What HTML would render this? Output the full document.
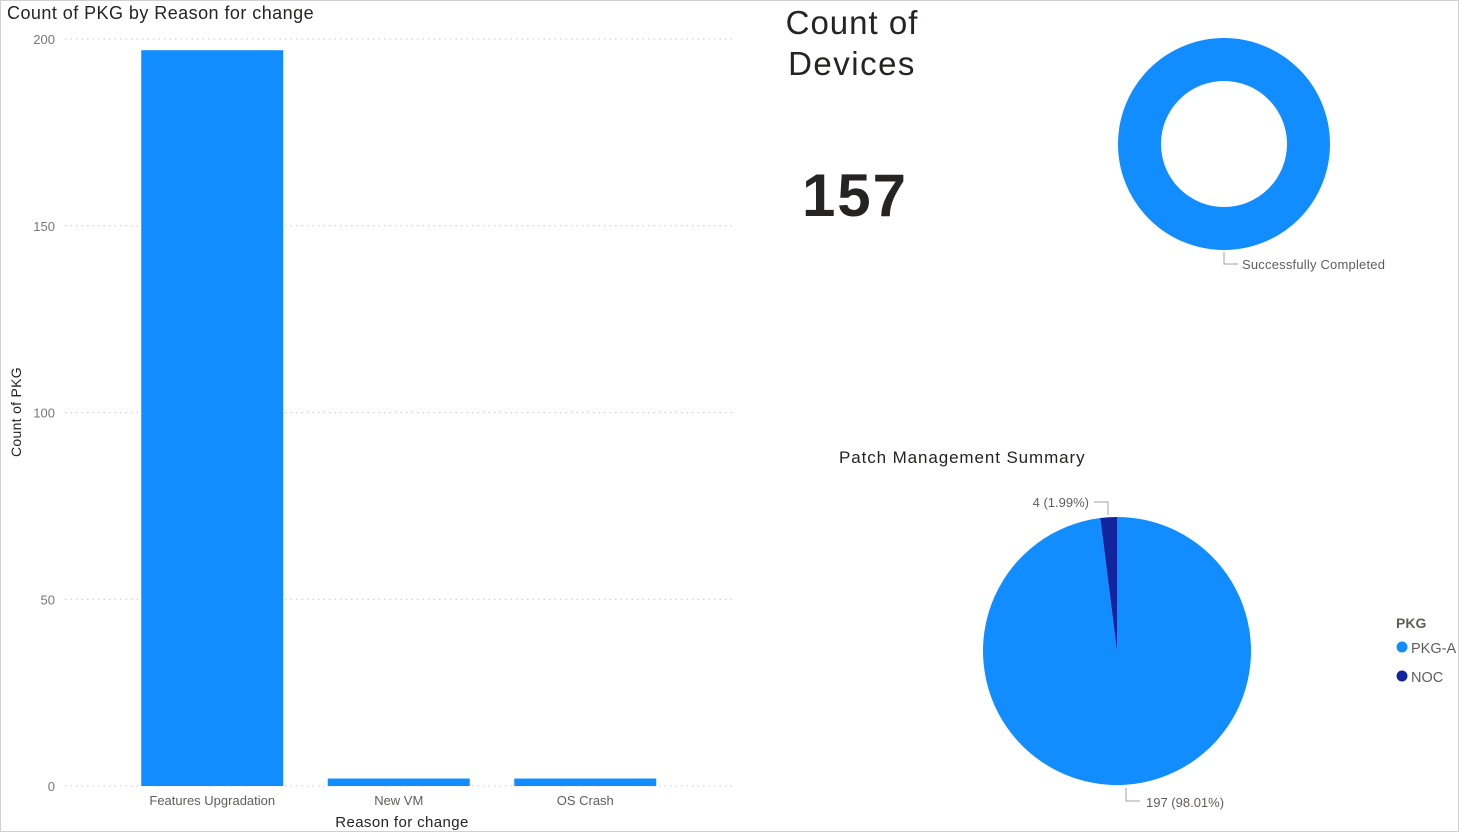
<!DOCTYPE html>
<html><head><meta charset="utf-8"><style>
html,body{margin:0;padding:0;background:#fff;}
body{width:1459px;height:832px;overflow:hidden;font-family:"Liberation Sans",sans-serif;}
svg text{font-family:"Liberation Sans","DejaVu Sans",sans-serif;}
</style></head><body>
<svg id="root" width="1459" height="832" viewBox="0 0 1459 832" xmlns="http://www.w3.org/2000/svg">
<rect x="0.5" y="0.5" width="1458" height="831" fill="#fff" stroke="#d0d0d0"/>
<text x="7" y="19" font-size="18" letter-spacing="0.45" fill="#252423">Count of PKG by Reason for change</text>
<g id="bars"></g>
<text x="21" y="412" font-size="14" letter-spacing="0.3" fill="#252423" transform="rotate(-90 21 412)" text-anchor="middle">Count of PKG</text>
<text x="402" y="827" font-size="15" letter-spacing="0.4" fill="#252423" text-anchor="middle">Reason for change</text>
<text x="852" y="34" font-size="33" letter-spacing="1" fill="#252423" text-anchor="middle">Count of</text>
<text x="852" y="75" font-size="33" letter-spacing="1.5" fill="#252423" text-anchor="middle">Devices</text>
<text x="855" y="216" font-size="60" font-weight="bold" letter-spacing="2" fill="#252423" text-anchor="middle">157</text>
<g id="donut"></g>
<text x="839" y="463" font-size="17" letter-spacing="0.9" fill="#252423">Patch Management Summary</text>
<g id="pie"></g>
<text x="1396" y="628" font-size="14" font-weight="bold" fill="#605e5c">PKG</text>
<g><circle cx="1402" cy="647" r="5.5" fill="#118dff"/><text x="1411" y="653" font-size="14.5" fill="#605e5c">PKG-A</text></g>
<g><circle cx="1402" cy="676" r="5.5" fill="#12239e"/><text x="1411" y="682" font-size="14.5" fill="#605e5c">NOC</text></g>
</svg>
<script>
const categories=["Features Upgradation","New VM","OS Crash"];
const counts=[197,2,2];
const yTicks=[0,50,100,150,200];
const pieLabels=["PKG-A","NOC"];
const pieValues=[197,4];
const donutLabels=["Successfully Completed"];
const donutValues=[157];
const NS="http://www.w3.org/2000/svg";
function mk(tag,attrs,parent,txt){const e=document.createElementNS(NS,tag);for(const k in attrs)e.setAttribute(k,attrs[k]);if(txt!==undefined)e.textContent=txt;parent.appendChild(e);return e;}
const y0=786,y1=39,yMax=200;
function yScale(v){return y0-(v/yMax)*(y0-y1);}
const xStart=119,step=186.5,bw=142;
function xCenter(i){return xStart+step*(i+0.5);}
const bars=document.getElementById('bars');
yTicks.forEach(t=>{
  const l=mk('line',{x1:65,x2:736,y1:yScale(t),y2:yScale(t),stroke:'#c8c8c8','stroke-dasharray':'1.5 4'},bars);
  
  
  const tx=mk('text',{x:55,y:yScale(t)+5,'font-size':13,fill:'#777','text-anchor':'end'},bars,String(t));
  
  
});
categories.forEach((c,i)=>{
  const r=mk('rect',{x:xCenter(i)-bw/2,y:yScale(counts[i]),width:bw,height:y0-yScale(counts[i]),fill:'#118dff'},bars);
  
  
  const tx=mk('text',{x:xCenter(i),y:805,'font-size':13,fill:'#605e5c','text-anchor':'middle'},bars,c);
  
  
});
const dg=document.getElementById('donut');
const dc=mk('circle',{cx:1224,cy:144,r:84.5,fill:'none',stroke:'#118dff','stroke-width':43},dg);


mk('polyline',{points:'1224,252 1224,264 1238,264',fill:'none',stroke:'#a0a0a0'},dg);
const dl=mk('text',{x:1242,y:269,'font-size':13,'letter-spacing':0.2,fill:'#605e5c'},dg,donutLabels[0]);


const pg=document.getElementById('pie');
const cx=1117,cy=651,R=134;
const total=pieValues.reduce((a,b)=>a+b,0);
const colors=['#118dff','#12239e'];
let ang=0;
pieValues.forEach((v,i)=>{
  const a0=ang,a1=ang+v/total*2*Math.PI;ang=a1;
  const p=(a)=>[cx+R*Math.sin(a),cy-R*Math.cos(a)];
  const [sx,sy]=p(a0),[ex,ey]=p(a1);
  const large=(a1-a0)>Math.PI?1:0;
  const path=mk('path',{d:`M${cx},${cy} L${sx},${sy} A${R},${R} 0 ${large} 1 ${ex},${ey} Z`,fill:colors[i]},pg);
  
  
});
mk('polyline',{points:'1108,515 1108,502 1094,502',fill:'none',stroke:'#a0a0a0'},pg);
const l1=mk('text',{x:1089,y:507,'font-size':13,fill:'#605e5c','text-anchor':'end'},pg,pieValues[1]+' ('+(pieValues[1]/total*100).toFixed(2)+'%)');


mk('polyline',{points:'1126,788 1126,801 1140,801',fill:'none',stroke:'#a0a0a0'},pg);
const l2=mk('text',{x:1146,y:807,'font-size':13,fill:'#605e5c'},pg,pieValues[0]+' ('+(pieValues[0]/total*100).toFixed(2)+'%)');


</script>
</body></html>
